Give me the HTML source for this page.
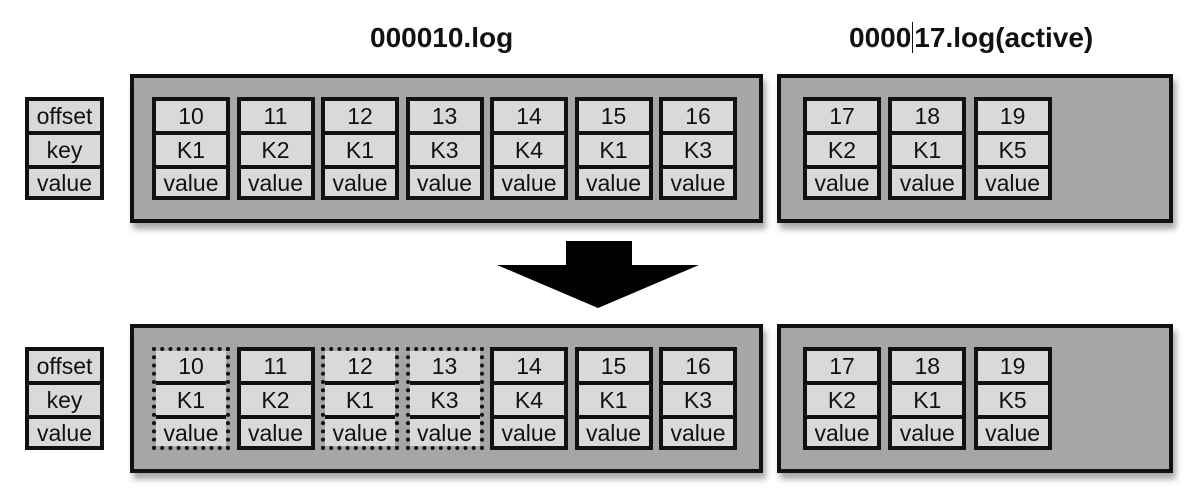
<!DOCTYPE html>
<html><head><meta charset="utf-8"><style>
body{margin:0;width:1188px;height:494px;background:#fff;position:relative;overflow:hidden;font-family:"Liberation Sans",sans-serif}
.abs{position:absolute;box-sizing:border-box}
.seg{border:4px solid #111;background:#a6a6a6;box-shadow:3px 6px 6px rgba(0,0,0,.35)}
.cell{border:4px solid #111;background:#111}
.cell.del{border:4px dotted #111;background:transparent}
.sep{position:absolute;left:0;right:0;height:4px;background:#111}
.row{position:absolute;left:0;right:0;height:30px;background:#d9d9d9;text-align:center;font-size:23px;line-height:31px;color:#111}
.title{position:absolute;font-size:28px;font-weight:bold;color:#111;top:22px}
</style></head><body>
<div class="title" style="left:370px">000010.log</div>
<div class="title" style="left:849px">0000<span style="border-left:1px solid #111;margin:0 1px"></span>17.log(active)</div>
<svg class="abs" style="left:0;top:0" width="1188" height="494">
<polygon points="566,241 632,241 632,265 699,265 598,308 497,265 566,265" fill="#000"/>
</svg>
<div id="root"></div>
<script>
const offsetsA=["10","11","12","13","14","15","16"];
const keysA=["K1","K2","K1","K3","K4","K1","K3"];
const offsetsB=["17","18","19"];
const keysB=["K2","K1","K5"];
const deletedBottom=["10","12","13"];
const root=document.getElementById('root');
function mk(cls,x,y,w,h){const d=document.createElement('div');d.className='abs '+cls;d.style.left=x+'px';d.style.top=y+'px';d.style.width=w+'px';d.style.height=h+'px';root.appendChild(d);return d;}
function fill(c,vals){
  vals.forEach((v,i)=>{const r=document.createElement('div');r.className='row';r.style.top=(i*33.5)+'px';if(i==2)r.style.height='28px';r.textContent=v;c.appendChild(r);});
  [30,63.5].forEach(t=>{const s=document.createElement('div');s.className='sep';s.style.top=t+'px';c.appendChild(s);});
}
function cell(x,y,vals,del){
  const c=mk('cell'+(del?' del':''),x,y,78,103);
  
  
  fill(c,vals);
}
function seg(y,name){
  const s=mk('seg',130,y,633,149);
  
  
  const t=mk('seg',777,y,396,149);
  
  
  const l=mk('cell',25,y+23,79,103);
  
  
  fill(l,["offset","key","value"]);
  offsetsA.forEach((o,i)=>cell(152+i*84.5,y+23,[o,keysA[i],"value"],name==='bottom'&&deletedBottom.includes(o)));
  offsetsB.forEach((o,i)=>cell(803+i*85.3,y+23,[o,keysB[i],"value"],false));
}
seg(74,'top');
seg(324,'bottom');
</script>
</body></html>
